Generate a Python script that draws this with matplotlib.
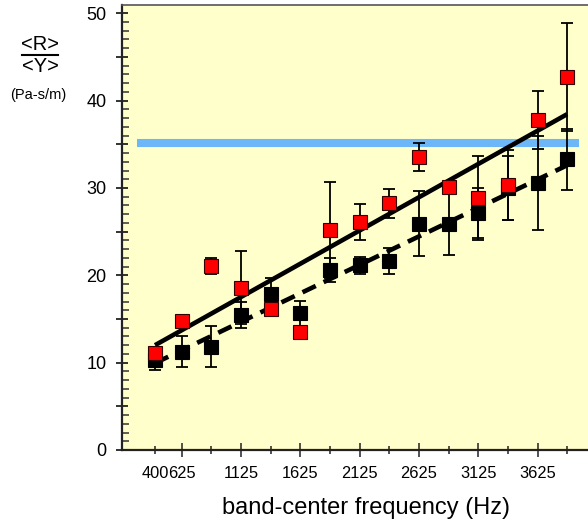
import matplotlib
matplotlib.use("Agg")
import matplotlib.pyplot as plt
from matplotlib.ticker import FixedLocator, FixedFormatter, MultipleLocator

plt.rcParams['font.family'] = ['Liberation Sans', 'DejaVu Sans']

# ---- data ----
freqs = [400, 625, 875, 1125, 1375, 1625, 1875, 2125, 2375, 2625, 2875, 3125, 3375, 3625, 3875]
red_vals = [11.15, 14.8, 21.1, 18.6, 16.15, 13.5, 25.2, 26.1, 28.25, 33.5, 30.1, 28.9, 30.3, 37.8, 42.7]
red_err = [0.5, 0.5, 0.9, 4.2, 0.8, 0.5, 5.5, 2.1, 1.65, 1.6, 0.6, 4.8, 4.0, 3.35, 6.2]
black_vals = [10.25, 11.25, 11.85, 15.45, 17.9, 15.65, 20.6, 21.15, 21.6, 25.9, 25.9, 27.1, 30.0, 30.6, 33.3]
black_err = [1.05, 1.8, 2.4, 1.45, 1.8, 1.4, 1.4, 1.0, 1.5, 3.7, 3.6, 2.85, 3.7, 5.4, 3.5]

fit_x = [400, 3875]
fit_red = [12.0, 38.45]
fit_black = [9.95, 32.6]

ref_x = [246, 3975]
ref_y = [35.1, 35.1]

major_ticks = [625, 1125, 1625, 2125, 2625, 3125, 3625]
major_labels = ['625', '1125', '1625', '2125', '2625', '3125', '3625']
minor_ticks = [400, 875, 1375, 1875, 2375, 2875, 3375, 3875]
minor_labels = ['400', '', '', '', '', '', '', '']

# ---- figure ----
fig = plt.figure(figsize=(5.88, 5.25), dpi=100)
W, H = 588, 525
left_px, right_px, top_px, bottom_px = 122.4, 596.8, 5, 450
ax = fig.add_axes([left_px / W, 1 - bottom_px / H, (right_px - left_px) / W, (bottom_px - top_px) / H])
ax.set_facecolor('#FFFFCC')
ax.set_xlim(125, 4125)
ax.set_ylim(0, 50.95)

# reference line
ax.plot(ref_x, ref_y, color='#6DB6F7', lw=5.8, solid_capstyle='butt', zorder=1)

# black series
ax.errorbar(freqs, black_vals, yerr=black_err, fmt='none', ecolor='black',
            elinewidth=1.3, capsize=4.5, capthick=1.3, zorder=2)
ax.plot(freqs, black_vals, 's', ms=10.3, mfc='black', mec='black', mew=0.8, zorder=3, ls='none')

# fit lines
ax.plot(fit_x, fit_red, color='black', lw=3.3, solid_capstyle='butt', zorder=4)
ax.plot(fit_x, fit_black, color='black', lw=3.3, dashes=(3.2, 1.9), dash_capstyle='butt', zorder=4)

# red series
ax.errorbar(freqs, red_vals, yerr=red_err, fmt='none', ecolor='black',
            elinewidth=1.3, capsize=4.5, capthick=1.3, zorder=5)
ax.plot(freqs, red_vals, 's', ms=10.3, mfc='#FF0000', mec='#330000', mew=0.8, zorder=6, ls='none')

# spines
for s in ['left', 'bottom']:
    ax.spines[s].set_linewidth(1.6)
    ax.spines[s].set_color('#222222')
ax.spines['top'].set_linewidth(1.2)
ax.spines['top'].set_color('#555555')
ax.spines['right'].set_visible(False)

# y ticks
ax.yaxis.set_major_locator(MultipleLocator(5))
ax.yaxis.set_minor_locator(MultipleLocator(1))
ax.yaxis.set_major_formatter(plt.FuncFormatter(lambda v, p: f"{int(v)}" if int(round(v)) % 10 == 0 else ""))
ax.tick_params(axis='y', which='major', direction='inout', length=9, width=1.3,
               labelsize=13, pad=7.0, colors='#222222', labelcolor='black')
ax.tick_params(axis='y', which='minor', direction='in', length=4.8, width=1.1, colors='#333333')

# x ticks
ax.xaxis.set_major_locator(FixedLocator(major_ticks))
ax.xaxis.set_major_formatter(FixedFormatter(major_labels))
ax.xaxis.set_minor_locator(FixedLocator(minor_ticks))
ax.xaxis.set_minor_formatter(FixedFormatter(minor_labels))
ax.tick_params(axis='x', which='major', direction='inout', length=9.4, width=1.1,
               labelsize=11.8, pad=6.8, colors='#222222', labelcolor='black')
ax.tick_params(axis='x', which='minor', direction='inout', length=5.8, width=1.1,
               labelsize=11.8, pad=8.5, colors='#222222', labelcolor='black')

ax.set_xlabel('band-center frequency (Hz)', fontsize=17)
ax.xaxis.set_label_coords((365.8 - left_px) / (right_px - left_px), -(508 - bottom_px) / (bottom_px - top_px))
ax.xaxis.label.set_va('center')

# y label as fraction
fig.text(40 / W, 1 - 50.5 / H, '<R>', ha='center', va='baseline', fontsize=14.5)
fig.add_artist(plt.Line2D([21.7 / W, 58.3 / W], [1 - 54.5 / H, 1 - 54.5 / H], color='black', lw=1.5))
fig.text(40 / W, 1 - 71.5 / H, '<Y>', ha='center', va='baseline', fontsize=14.5)
fig.text(38 / W, 1 - 99 / H, '(Pa-s/m)', ha='center', va='baseline', fontsize=10.5)

fig.savefig('out.png', dpi=100)
